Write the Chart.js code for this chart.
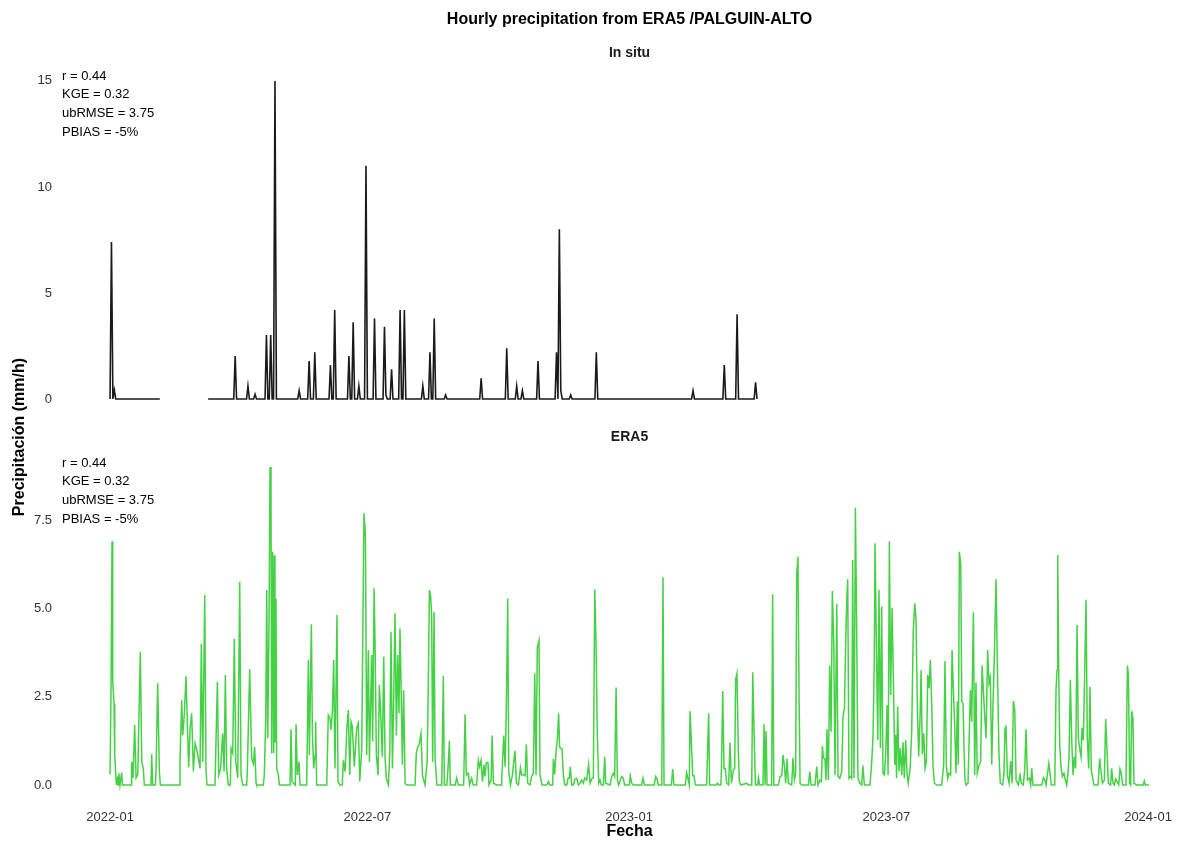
<!DOCTYPE html>
<html>
<head>
<meta charset="utf-8">
<title>Hourly precipitation from ERA5 /PALGUIN-ALTO</title>
<script src="https://cdn.jsdelivr.net/npm/chart.js@4.4.1/dist/chart.umd.min.js"></script>
<style>
  html, body { margin: 0; padding: 0; background: #fff; }
  #wrap { width: 1181px; height: 843px; }
</style>
</head>
<body>
<div id="wrap"><canvas id="chart" width="1181" height="843"></canvas></div>
<script>
// time is given as days since 2022-01-01 00:00
const startDate = '2022-01-01';
const xTickLabels = ['2022-01', '2022-07', '2023-01', '2023-07', '2024-01'];
const yTicksInSitu = [0, 5, 10, 15];
const yTicksEra5 = [0, 2.5, 5, 7.5];
const statsLines = ['r = 0.44', 'KGE = 0.32', 'ubRMSE = 3.75', 'PBIAS = -5%'];

// In situ record (null = no data)
const inSituDay = [
  0, 1, 2, 3, 4, 35, 50,
  69, 87, 88, 89, 96, 97, 98, 101, 102, 103,
  109, 110, 111, 112, 113, 114, 115, 116, 117,
  132, 133, 134, 139, 140, 141, 143, 144, 145,
  154, 155, 156, 157, 158, 159, 167, 168, 169, 170, 171, 172,
  174, 175, 176, 179, 180, 181, 185, 186, 187,
  192, 193, 194, 195, 197, 198, 199, 203, 204, 205, 206, 207, 208,
  219, 220, 221, 224, 225, 226, 227, 228, 229, 235, 236, 237,
  260, 261, 262, 278, 279, 280, 285, 286, 287, 289, 290, 291,
  300, 301, 302, 313, 314, 315, 316, 317, 318, 323, 324, 325,
  341, 342, 343, 409, 410, 411, 431, 432, 433, 440, 441, 442, 453, 454, 455
];
const inSituValue = [
  0, 7.4, 0, 0.42, 0, 0, null,
  0, 0, 2.03, 0, 0, 0.61, 0, 0, 0.22, 0,
  0, 3.02, 0, 0, 3.02, 0, 0, 15.0, 0,
  0, 0.39, 0, 0, 1.79, 0, 0, 2.2, 0,
  0, 1.6, 0, 0, 4.2, 0, 0, 2.03, 0, 0, 3.62, 0,
  0, 0.61, 0, 0, 11.0, 0, 0, 3.8, 0,
  0, 3.41, 0.2, 0, 0, 1.4, 0, 0, 4.2, 0, 0, 4.2, 0,
  0, 0.61, 0, 0, 2.2, 0, 0, 3.8, 0, 0, 0.19, 0,
  0, 0.97, 0, 0, 2.39, 0, 0, 0.61, 0, 0, 0.39, 0,
  0, 1.79, 0, 0, 2.2, 0, 8.0, 0.4, 0, 0, 0.19, 0,
  0, 2.2, 0, 0, 0.39, 0, 0, 1.6, 0, 0, 4.0, 0, 0, 0.79, 0
];

// ERA5 record
const era5Day = [
  0.0, 0.7, 1.4, 1.9, 2.8, 3.3, 4.0, 4.5, 5.2, 5.6, 6.3, 7.0, 8.2, 8.7,
  14.8, 15.2, 16.2, 17.3, 18.3, 19.5, 21.3, 22.3, 23.4, 24.1,
  28.8, 29.3, 30.0, 31.9, 32.4, 33.5, 34.7, 35.4,
  48.8, 49.2, 50.4, 51.1, 52.3, 53.4, 54.4, 55.3, 56.3, 57.4, 58.6, 59.8, 61.0, 62.1, 63.3, 64.2, 65.2, 66.6, 67.5, 68.2,
  73.8, 75.5, 76.4, 77.8, 79.2, 80.2, 81.1, 82.0, 83.2, 84.6, 85.1, 86.3, 87.4, 88.4, 89.8, 91.2, 92.1, 93.3,
  96.1, 96.6, 98.2, 99.6, 100.8, 101.7, 102.7, 103.1,
  107.8, 108.5, 109.5, 110.2, 110.9, 111.8, 112.5, 113.2, 113.7, 114.4, 115.1, 115.6, 116.0, 116.7, 117.2, 118.4, 119.1,
  126.6, 127.3, 128.0, 130.3, 130.8, 131.7, 132.9, 133.6,
  138.3, 139.5, 140.2, 141.6, 142.3, 143.2, 144.2, 144.6, 145.3,
  152.4, 153.5, 154.7, 155.4, 156.4, 157.3, 158.2, 159.6, 160.3, 161.7,
  163.3, 164.1, 165.3, 166.7, 167.6, 168.6, 169.5, 170.4, 171.8, 173.5, 174.6, 175.6, 177.0,
  178.6, 179.6, 180.5, 181.7, 182.4, 184.0, 184.7, 185.7, 186.4, 187.3, 188.5, 189.4, 190.4, 191.5, 192.5, 193.4, 194.3, 195.8,
  196.7, 197.6, 198.6, 199.5, 200.4, 201.4, 202.3, 203.2, 203.9, 204.9, 205.6, 206.5, 207.5, 208.6,
  214.5, 215.4, 216.4, 217.3, 218.7, 219.7, 221.5, 223.0, 223.7, 224.6, 225.5, 226.2, 226.9, 227.9, 228.6, 229.9,
  233.3, 234.4, 235.1, 236.9, 237.7, 238.7, 239.3, 242.7, 243.8, 244.9, 248.7, 249.7, 250.6, 252.0, 252.9, 254.3, 255.5,
  257.8, 259.0, 259.9, 260.9, 261.9, 263.0, 263.7, 264.7, 265.8, 266.5, 268.0, 268.7, 269.6, 272.0,
  275.0, 275.5, 276.9, 277.8, 278.7, 279.7, 280.4, 281.6, 283.0, 284.0, 284.8, 285.8, 287.2, 288.6, 289.5, 290.7, 291.9, 292.8, 293.7, 295.4,
  296.5, 297.7, 298.7, 299.6, 300.5, 301.7, 302.4, 303.8, 307.1, 308.3, 309.4, 311.3, 311.8, 312.7, 313.7, 314.6, 315.5, 316.2, 317.2, 317.9, 318.8, 319.8,
  321.2, 322.1, 323.0, 323.7, 324.7, 325.8, 327.0, 328.2, 329.4, 330.5, 331.7, 332.9, 333.8, 335.2, 336.6, 337.6, 339.0, 339.9,
  340.9, 341.8, 342.7, 343.7, 344.6, 345.6, 347.0, 347.9, 348.6, 351.7, 352.8, 354.0, 354.9, 355.9, 356.8, 357.7, 359.8, 361.0, 361.9,
  365.2, 365.9, 366.9, 368.1, 373.9, 374.8, 375.8, 382.6, 383.8, 384.7, 385.6, 388.0, 388.9, 389.6, 394.8, 395.7, 396.6,
  404.6, 405.5, 407.4, 407.9, 408.8, 409.8, 410.7, 411.7, 419.6, 421.0, 421.7, 426.2, 427.1, 428.1,
  429.6, 430.0, 430.9, 431.8, 432.7, 433.7, 435.1, 436.0, 437.0, 438.4, 439.3, 440.0, 440.9, 441.9, 442.6, 443.8, 447.8, 448.9,
  451.3, 452.0, 452.9, 453.9, 455.5, 456.0, 456.9, 459.2, 460.0, 460.7, 461.4, 462.1, 465.3, 466.0, 466.8,
  470.0, 471.2, 472.4, 473.3, 474.2, 475.2, 476.1, 477.1, 479.4, 480.3, 481.3, 482.2, 482.9, 483.8, 484.6, 485.3, 486.5,
  491.2, 492.1, 493.0, 495.8, 497.0, 497.9, 499.3, 500.3, 501.0, 501.7, 502.8, 503.5, 504.2, 505.2, 506.1, 507.1, 508.0, 509.0, 509.9, 511.1, 512.0,
  513.2, 514.6, 515.5, 516.5, 517.4, 518.1, 518.8, 519.7, 520.7, 521.6, 522.3, 523.2, 524.2, 525.1, 526.0, 527.4, 528.6, 529.5, 530.5,
  534.5, 535.7, 536.6, 537.5, 538.0, 538.9, 539.9, 540.8, 541.8, 542.7, 543.6, 544.6, 545.5, 546.5, 547.2, 548.1, 549.0, 550.0, 550.9, 551.9,
  552.5, 553.2, 553.9, 554.9, 555.8, 556.8, 557.7, 558.6, 559.6, 560.5, 561.4, 562.8, 563.8, 564.9, 565.9, 566.8, 567.8, 568.7,
  569.7, 570.4, 571.3, 572.3, 573.2, 574.1, 575.1, 576.0, 576.9, 577.9, 578.8, 579.8, 581.4,
  584.9, 586.3, 587.2, 588.2, 589.1, 590.0, 591.2, 592.2, 593.1, 594.0, 595.0, 595.9, 596.6, 597.3, 598.3, 599.0, 599.9, 600.6, 601.3, 602.0,
  603.4, 605.1, 606.0, 607.2, 608.1, 609.0, 609.9, 611.2, 612.3, 613.3, 614.2, 615.1, 616.1, 617.2, 618.2, 619.1,
  620.1, 621.0, 621.9, 623.1, 624.3, 625.2, 626.1, 627.8,
  628.7, 629.4, 630.1, 631.1, 632.3, 633.4, 634.4, 635.3, 636.3, 637.2, 638.8, 640.0, 640.9, 642.3, 643.3, 644.2, 645.2, 646.6, 647.5, 648.2, 649.1,
  655.2, 656.4, 657.4, 658.3, 660.2, 661.1, 662.0, 664.4, 665.3, 666.0, 666.5, 667.2, 667.9, 668.8, 669.8, 670.9, 671.9, 672.8,
  673.7, 674.4, 675.4, 676.3, 677.3, 678.2, 679.1, 680.1, 681.0, 681.9, 682.9, 683.6, 684.5, 685.5, 686.4, 687.3, 688.3, 689.2, 690.1, 691.1, 692.0,
  694.9, 696.0, 697.0, 697.9, 699.3, 700.2, 701.2, 702.1, 703.7, 704.4, 705.4, 706.3, 707.2, 708.2, 709.4, 710.3, 711.2, 712.2,
  714.5, 715.5, 716.2, 717.1, 717.8, 718.5, 719.4, 720.1, 722.0, 726.7, 727.4, 728.1, 730.7
];
const era5Value = [
  0.3, 2.7, 6.9, 2.9, 2.3, 0.85, 0.3, 0, 0.24, 0, 0.33, 0, 0.35, 0,
  0, 0.66, 0.2, 1.7, 0.2, 0.3, 3.77, 0.66, 0.47, 0,
  0, 0.87, 0, 0, 0.47, 2.88, 0.38, 0,
  0, 0.66, 2.4, 1.4, 2.03, 3.08, 1.7, 0.5, 1.6, 2.03, 0.38, 1.18, 1.0, 0.75, 0.47, 4.0, 0.66, 5.38, 0.38, 0,
  0, 2.92, 0.28, 0.47, 1.46, 0.38, 3.11, 0.47, 0, 0, 1.04, 0.9, 4.13, 0.66, 0.2, 5.75, 0.28, 0,
  0, 0.47, 3.28, 0.75, 0.6, 1.08, 0.05, 0,
  0, 0.28, 1.89, 5.52, 1.32, 4.53, 9.0, 7.88, 0.9, 6.6, 0.9, 6.5, 1.2, 5.28, 0.47, 0.28, 0,
  0, 1.58, 0.1, 0, 1.72, 0.28, 0.66, 0,
  0, 3.54, 0.85, 4.55, 1.5, 0.47, 0.85, 1.79, 0,
  0, 1.98, 1.9, 1.56, 2.12, 3.54, 0.47, 4.81, 0.1, 0,
  0, 0.7, 0.38, 1.7, 2.12, 0.28, 1.79, 1.65, 0.52, 1.62, 1.75, 0.1, 1.0,
  7.69, 7.08, 0.85, 3.82, 0.66, 3.68, 1.23, 5.57, 3.96, 0.85, 0.28, 2.83, 1.98, 0.8, 3.63, 0.8, 0.19, 0,
  0.9, 4.34, 0.47, 2.45, 4.86, 1.4, 3.68, 2.03, 4.43, 2.36, 0.57, 2.69, 0.05, 0,
  0, 0.9, 1.08, 1.13, 1.46, 0.28, 0, 0.66, 2.45, 5.52, 5.33, 4.81, 0.66, 4.9, 0.75, 0,
  0, 3.09, 0, 0, 0.47, 1.25, 0, 0, 0.2, 0, 0, 2.0, 0.28, 0.33, 0, 0.19, 0,
  0, 0.7, 0.52, 0.7, 0.1, 0.58, 0.24, 0.64, 0.64, 0, 0.14, 1.4, 0.05, 0,
  0, 0.19, 1.4, 0.52, 2.17, 5.28, 0.38, 0, 0.28, 0.7, 0.96, 0.05, 0, 0.49, 0.28, 0.3, 0.26, 1.15, 0.05, 0,
  0.24, 0.33, 3.16, 0.28, 3.89, 4.09, 0.28, 0, 0, 0.1, 0, 0, 0.74, 0.3, 0.96, 1.3, 2.03, 1.06, 1.04, 1.02, 0.28, 0,
  0, 0.19, 0.19, 0.52, 0, 0, 0.17, 0.19, 0, 0.05, 0.14, 0.05, 0.2, 0.14, 0.58, 0.05, 0.19, 0.2,
  5.54, 3.96, 1.43, 0.05, 0.14, 0, 0, 0.8, 0.05, 0, 0.24, 0.33, 0.24, 2.76, 0.14, 0, 0.24, 0.19, 0,
  0, 0.26, 0.05, 0, 0, 0.2, 0, 0, 0.24, 0.17, 0, 0, 5.88, 0, 0, 0.45, 0,
  0, 0.35, 0, 2.09, 1.27, 0.26, 0.26, 0, 0, 2.03, 0, 0, 0.05, 0,
  0, 0.45, 2.66, 0.47, 0.47, 0.05, 0, 1.2, 0.05, 0.42, 0.47, 3.0, 3.16, 0.96, 0.1, 0, 0.05, 0,
  0, 3.19, 1.56, 0, 0, 0.2, 0, 0, 1.72, 0, 1.53, 0, 0, 5.4, 0,
  0, 0.24, 0.26, 0.85, 0.57, 0.05, 0.74, 0.05, 0, 0.77, 0.14, 0.33, 5.94, 6.46, 2.47, 0.05, 0,
  0, 0.38, 0, 0, 0.52, 0, 0.14, 0.1, 1.11, 0.77, 0.74, 0.14, 1.58, 0.14, 3.38, 1.51, 5.49, 4.0, 0.28, 5.12, 0.24,
  0.19, 0.38, 1.93, 2.17, 4.1, 5.21, 5.82, 0.19, 0.24, 0.19, 6.37, 0.2, 7.85, 4.48, 0.19, 0.05, 0, 0.55, 0,
  0, 0.66, 1.37, 3.58, 6.84, 4.2, 1.27, 5.52, 1.04, 5.05, 0.33, 0.28, 0.85, 2.26, 0.28, 6.9, 2.55, 5.02, 3.04, 0.57,
  1.42, 0.19, 2.22, 0.38, 1.04, 0.28, 1.21, 0.19, 1.27, 0.33, 0.05, 0.52, 1.51, 4.34, 5.14, 4.72, 2.22, 0.8,
  1.93, 3.25, 0.87, 1.46, 0.47, 0.66, 3.11, 2.74, 3.54, 2.26, 0.52, 0.05, 0,
  0, 0.57, 3.51, 0.52, 0.19, 0.33, 0.28, 3.82, 2.74, 1.7, 0.33, 2.36, 0.57, 6.6, 6.23, 2.36, 2.31, 1.04, 0.14, 0,
  0.05, 2.69, 1.79, 4.89, 0.28, 2.9, 0.33, 0.57, 0.66, 3.38, 2.69, 1.98, 1.32, 3.82, 2.88, 3.04,
  0.57, 2.31, 3.57, 5.82, 2.83, 0.85, 0.05, 0,
  0.33, 1.6, 1.65, 0.28, 0.05, 0.68, 0.05, 2.38, 2.12, 0.14, 0, 0.28, 0.05, 0, 0.45, 1.58, 0.14, 0.19, 0, 0.47, 0,
  0, 0.2, 0.14, 0, 0.61, 0.33, 0, 0, 2.69, 3.25, 6.51, 3.21, 1.13, 0.52, 0.24, 0.33, 0.14, 0,
  0.33, 0.75, 2.97, 1.32, 0.28, 0.8, 0.47, 4.53, 1.32, 1.04, 0.8, 1.62, 1.27, 3.25, 5.24, 1.32, 0.47, 2.78, 0.42, 0.19, 0,
  0, 0.75, 0.38, 0.05, 0.14, 1.87, 0.94, 0.05, 0, 0.47, 0.05, 0, 0.17, 0.1, 0, 0.45, 0.33, 0,
  0, 3.38, 3.11, 0.05, 0, 2.09, 1.89, 0.05, 0, 0, 0.11, 0, 0
];

function dayOf(label) {
  const p = label.split('-').map(Number);
  const s = startDate.split('-').map(Number);
  return (Date.UTC(p[0], p[1] - 1, p[2] || 1) - Date.UTC(s[0], s[1] - 1, s[2])) / 86400000;
}

function toPoints(days, values) {
  if (days.length !== values.length) console.warn('length mismatch', days.length, values.length);
  const n = Math.min(days.length, values.length);
  const pts = [];
  for (let i = 0; i < n; i++) pts.push({ x: days[i], y: values[i] });
  return pts;
}

// centre of the data span, used to centre the titles like the panel did
const lastDay = Math.max(era5Day[era5Day.length - 1], inSituDay[inSituDay.length - 1]);
const midDay = (era5Day[0] + lastDay) / 2;

const FONT = '"Liberation Sans", Arial, Helvetica, sans-serif';
Chart.defaults.font.family = FONT;

const textPlugin = {
  id: 'panelText',
  afterDraw(chart) {
    const ctx = chart.ctx;
    const top = chart.scales.y;
    const bottom = chart.scales.y2;
    const cx = chart.scales.x.getPixelForValue(midDay);
    ctx.save();
    ctx.textAlign = 'center';
    ctx.textBaseline = 'middle';
    ctx.fillStyle = '#000';
    ctx.font = 'bold 16px ' + FONT;
    ctx.fillText('Hourly precipitation from ERA5 /PALGUIN-ALTO', cx, 20);

    ctx.fillStyle = '#1a1a1a';
    ctx.font = 'bold 14px ' + FONT;
    ctx.fillText('In situ', cx, top.top - 12);
    ctx.fillText('ERA5', cx, bottom.top - 10);

    ctx.fillStyle = '#000';
    ctx.font = 'bold 16px ' + FONT;
    ctx.fillText('Fecha', cx, 832);
    ctx.save();
    ctx.translate(20, 437);
    ctx.rotate(-Math.PI / 2);
    ctx.fillText('Precipitación (mm/h)', 0, 0);
    ctx.restore();

    ctx.textAlign = 'left';
    ctx.font = '13px ' + FONT;
    statsLines.forEach((t, i) => {
      ctx.fillText(t, 62, top.top + 11 + i * 18.7);
      ctx.fillText(t, 62, bottom.top + 16 + i * 18.7);
    });
    ctx.restore();
  }
};

new Chart(document.getElementById('chart'), {
  type: 'line',
  data: {
    datasets: [
      {
        label: 'In situ',
        data: toPoints(inSituDay, inSituValue),
        yAxisID: 'y',
        borderColor: '#1a1a1a',
        borderWidth: 1.6,
        pointRadius: 0,
        tension: 0,
        spanGaps: false
      },
      {
        label: 'ERA5',
        data: toPoints(era5Day, era5Value),
        yAxisID: 'y2',
        borderColor: '#45d145',
        borderWidth: 1.5,
        pointRadius: 0,
        tension: 0
      }
    ]
  },
  options: {
    responsive: false,
    animation: false,
    devicePixelRatio: 1,
    layout: { padding: { top: 65, left: 0, right: 0, bottom: 0 } },
    plugins: { legend: { display: false }, tooltip: { enabled: false }, title: { display: false } },
    scales: {
      x: {
        type: 'linear',
        min: -36.6,
        max: 753.2,
        grid: { display: false, drawTicks: false },
        border: { display: false },
        afterBuildTicks: (s) => { s.ticks = xTickLabels.map(l => ({ value: dayOf(l) })); },
        afterFit: (s) => { s.height = 42; },
        ticks: {
          autoSkip: false,
          maxRotation: 0,
          padding: 9,
          color: '#333',
          font: { size: 13 },
          callback: (v, i) => xTickLabels[i]
        }
      },
      y: {
        type: 'linear',
        position: 'left',
        stack: 'panels',
        stackWeight: 382,
        weight: 2,
        min: -2.264,
        max: 15.75,
        grid: { display: false, drawTicks: false },
        border: { display: false },
        afterBuildTicks: (s) => { s.ticks = yTicksInSitu.map(v => ({ value: v })); },
        afterFit: (s) => { s.width = 58; },
        ticks: { padding: 6, color: '#333', font: { size: 13 }, callback: (v) => String(v) }
      },
      y2: {
        type: 'linear',
        position: 'left',
        stack: 'panels',
        stackWeight: 354,
        weight: 1,
        min: -0.453,
        max: 9.567,
        grid: { display: false, drawTicks: false },
        border: { display: false },
        afterBuildTicks: (s) => { s.ticks = yTicksEra5.map(v => ({ value: v })); },
        afterFit: (s) => { s.width = 58; },
        ticks: { padding: 6, color: '#333', font: { size: 13 }, callback: (v) => Number(v).toFixed(1) }
      }
    }
  },
  plugins: [textPlugin]
});
</script>
</body>
</html>
